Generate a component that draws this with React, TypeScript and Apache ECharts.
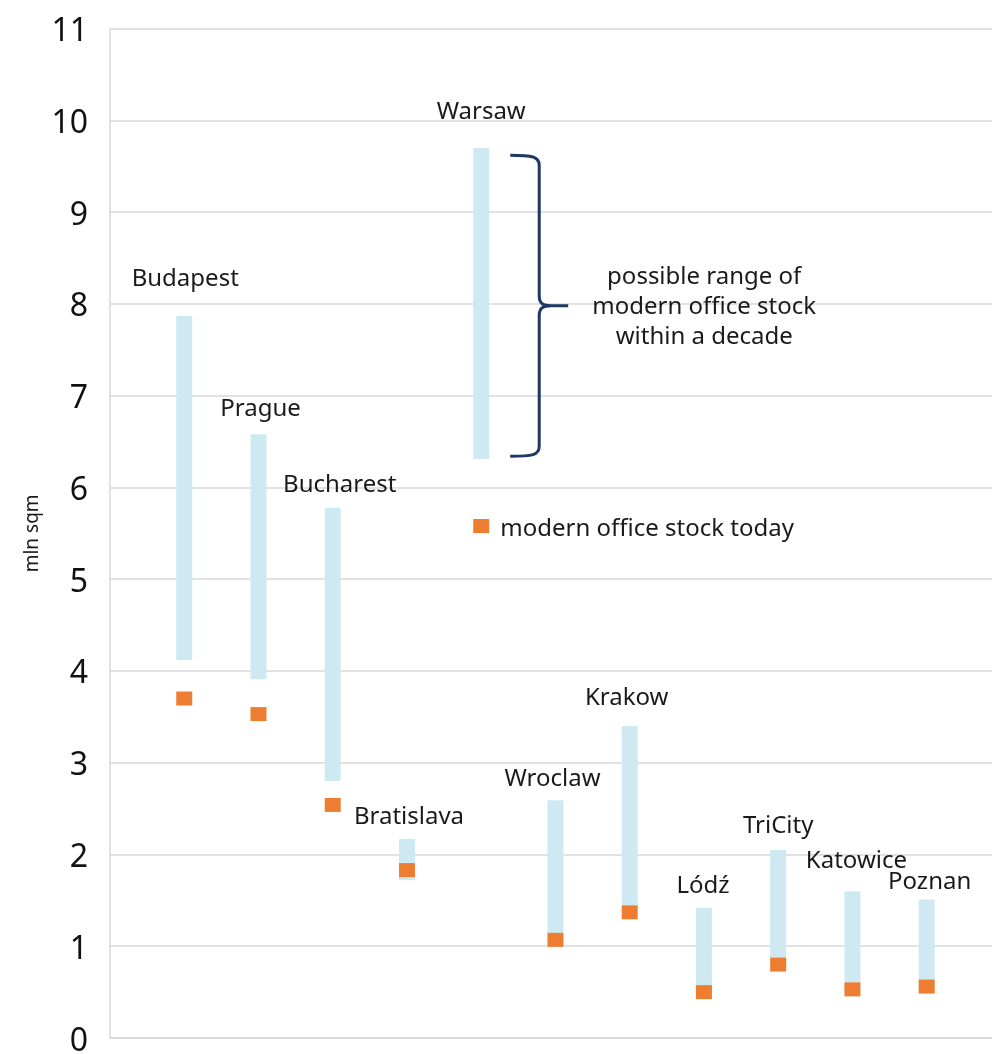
import React, { useEffect, useRef } from "react";
import * as echarts from "echarts";

const cities = ["Budapest", "Prague", "Bucharest", "Bratislava", "Warsaw", "Wroclaw", "Krakow", "Lódź", "TriCity", "Katowice", "Poznan"];
const xPos = [1, 2, 3, 4, 5, 6, 7, 8, 9, 10, 11];
const rangeLow = [4.12, 3.91, 2.8, 1.72, 6.31, 1.14, 1.45, 0.49, 0.82, 0.52, 0.54];
const rangeHigh = [7.87, 6.58, 5.78, 2.17, 9.7, 2.59, 3.4, 1.42, 2.05, 1.6, 1.51];
const stockToday = [3.7, 3.53, 2.54, 1.83, 5.58, 1.07, 1.37, 0.5, 0.8, 0.53, 0.56];
const yTicks = [0, 1, 2, 3, 4, 5, 6, 7, 8, 9, 10, 11];
const labelGap = [39, 28, 25, 24, 38, 24, 31, 24, 26, 33, 20];
const labelDx = [1, 2, 7, 2, 0, -3, -3, -1, 0, 4, 3];
const bracketLow = 6.34;
const bracketHigh = 9.62;
const legendText = "modern office stock today";
const noteText = "possible range of\nmodern office stock\nwithin a decade";

const FONT = "Noto Sans";

export default function App() {
  const ref = useRef<HTMLDivElement>(null);
  useEffect(() => {
    if (!ref.current) return;
    const chart = echarts.init(ref.current, null, { renderer: "svg" });
    const rangeData = xPos.map((x, i) => [x, rangeLow[i], rangeHigh[i], i]);
    const scatterData = xPos.map((x, i) => {
      const item: any = { value: [x, stockToday[i]] };
      if (cities[i] === "Warsaw") {
        item.label = {
          show: true,
          position: "right",
          distance: 11,
          formatter: legendText,
          fontSize: 24,
          fontFamily: FONT,
          color: "#1a1a1a",
        };
      }
      return item;
    });
    const wIdx = cities.indexOf("Warsaw");
    chart.setOption({
      animation: false,
      grid: { left: 110, top: 28.7, right: 0, height: 1012 },
      xAxis: {
        type: "value",
        min: 0,
        max: 11.88,
        axisLabel: { show: false },
        axisTick: { show: false },
        splitLine: { show: false },
        axisLine: { show: true, lineStyle: { color: "#d9d9d9", width: 1.5 } },
      },
      yAxis: {
        type: "value",
        min: yTicks[0],
        max: yTicks[yTicks.length - 1],
        interval: 1,
        name: "mln sqm",
        nameLocation: "middle",
        nameGap: 60,
        nameTextStyle: { fontSize: 19, fontFamily: FONT, color: "#1a1a1a" },
        axisLabel: { fontSize: 32, fontFamily: FONT, color: "#111", margin: 22, lineHeight: 26 },
        axisTick: { show: false },
        axisLine: { show: true, lineStyle: { color: "#d9d9d9", width: 1.5 } },
        splitLine: { show: true, lineStyle: { color: "#d9d9d9", width: 1.5 } },
      },
      series: [
        {
          type: "custom",
          z: 2,
          data: rangeData,
          renderItem: (params: any, api: any) => {
            const x = api.value(0);
            const lo = api.value(1);
            const hi = api.value(2);
            const i = api.value(3);
            const p1 = api.coord([x, hi]);
            const p2 = api.coord([x, lo]);
            return {
              type: "group",
              children: [
                {
                  type: "rect",
                  shape: { x: p1[0] - 8, y: p1[1], width: 16, height: p2[1] - p1[1] },
                  style: { fill: "#cfe9f2" },
                },
                {
                  type: "text",
                  x: p1[0] + labelDx[i],
                  y: p1[1] - labelGap[i],
                  style: {
                    text: cities[i],
                    fontSize: 24,
                    fontFamily: FONT,
                    fill: "#1a1a1a",
                    align: "center",
                    verticalAlign: "middle",
                  },
                },
              ],
            };
          },
        },
        {
          type: "custom",
          z: 3,
          data: [[xPos[wIdx], bracketLow, bracketHigh]],
          renderItem: (params: any, api: any) => {
            const x = api.value(0);
            const top = api.coord([x, api.value(2)]);
            const bot = api.coord([x, api.value(1)]);
            const cx = top[0];
            const yT = top[1];
            const yB = bot[1];
            const yM = (yT + yB) / 2;
            const x0 = cx + 29;
            const xv = cx + 58;
            const xt = cx + 87;
            const d =
              `M${x0},${yT} C${x0 + 22},${yT} ${xv},${yT + 1} ${xv},${yT + 10} ` +
              `L${xv},${yM - 10} C${xv},${yM - 2} ${xv + 4},${yM} ${xv + 12},${yM} L${xt},${yM} ` +
              `M${xv + 12},${yM} C${xv + 4},${yM} ${xv},${yM + 2} ${xv},${yM + 10} ` +
              `L${xv},${yB - 10} C${xv},${yB - 1} ${x0 + 22},${yB} ${x0},${yB}`;
            return {
              type: "group",
              children: [
                {
                  type: "path",
                  shape: { pathData: d },
                  style: { fill: "none", stroke: "#1f3864", lineWidth: 3 },
                },
                {
                  type: "text",
                  x: cx + 223,
                  y: yM - 1,
                  style: {
                    text: noteText,
                    fontSize: 24,
                    fontFamily: FONT,
                    fill: "#1a1a1a",
                    align: "center",
                    verticalAlign: "middle",
                    lineHeight: 30,
                  },
                },
              ],
            };
          },
        },
        {
          type: "scatter",
          z: 4,
          symbol: "rect",
          symbolSize: [16, 14],
          itemStyle: { color: "#ed7d31", opacity: 1 },
          data: scatterData,
        },
      ],
    });
    return () => chart.dispose();
  }, []);
  return <div ref={ref} style={{ position: "fixed", left: 0, top: 0, width: 992, height: 1054 }} />;
}
